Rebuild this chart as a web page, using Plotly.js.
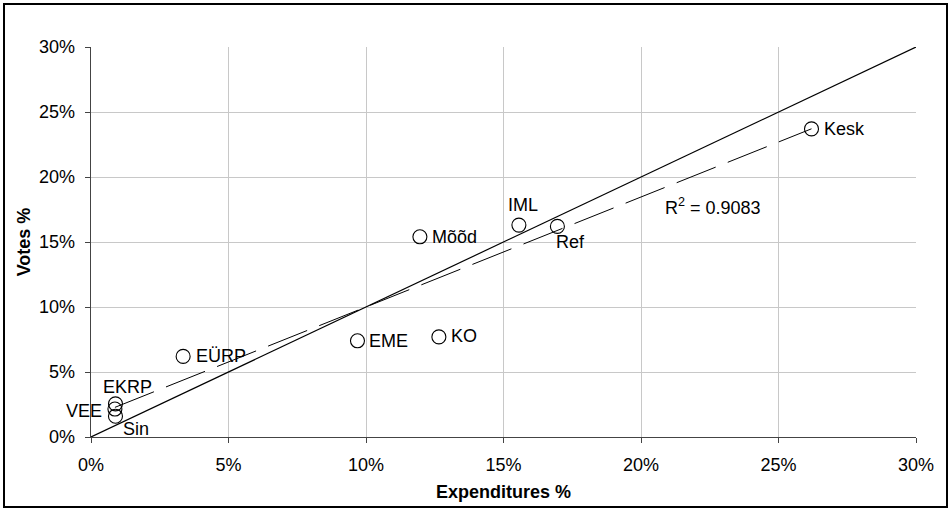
<!DOCTYPE html>
<html>
<head>
<meta charset="utf-8">
<script src="https://cdn.plot.ly/plotly-3.0.1.min.js"></script>
<style>
  html, body { margin: 0; padding: 0; background: #fff; }
  #wrap { position: relative; width: 951px; height: 510px; }
  #chart { position: absolute; left: 0; top: 0; width: 951px; height: 510px; }
  #frame { position: absolute; left: 3px; top: 3px; width: 945px; height: 505px;
           box-sizing: border-box; border: 2px solid #000; pointer-events: none; }
</style>
</head>
<body>
<div id="wrap"><div id="chart"></div><div id="frame"></div></div>
<script>
// ---- data (percent) ----
const parties      = ["Kesk", "IML", "Ref", "Mõõd", "EME", "KO", "EÜRP", "EKRP", "VEE", "Sin"];
const expenditures = [26.2, 15.56, 16.96, 11.96, 9.69, 12.65, 3.35, 0.89, 0.87, 0.89];
const votes        = [23.7, 16.3, 16.2, 15.4, 7.4, 7.7, 6.2, 2.55, 2.15, 1.6];
const xTicks       = [0, 5, 10, 15, 20, 25, 30];
const yTicks       = [0, 5, 10, 15, 20, 25, 30];
const xTickLabels  = ["0%", "5%", "10%", "15%", "20%", "25%", "30%"];
const yTickLabels  = ["0%", "5%", "10%", "15%", "20%", "25%", "30%"];
const equalityLine = [0, 30];
const r2Text       = "R<sup>2</sup> = 0.9083";
const r2Pos        = [20.8, 17.7];

// ---- label placement (style) ----
const labelStyle = {
  "Kesk": {xa: "left",   ya: "middle", dx: 10,  dy: 0},
  "IML":  {xa: "center", ya: "middle", dx: 4,   dy: 20},
  "Ref":  {xa: "center", ya: "middle", dx: 13,  dy: -16},
  "Mõõd": {xa: "left",   ya: "middle", dx: 10,  dy: 0},
  "EME":  {xa: "left",   ya: "middle", dx: 10,  dy: 0},
  "KO":   {xa: "left",   ya: "middle", dx: 10,  dy: 1},
  "EÜRP": {xa: "left",   ya: "middle", dx: 11,  dy: 0},
  "EKRP": {xa: "center", ya: "middle", dx: 12,  dy: 17},
  "VEE":  {xa: "right",  ya: "middle", dx: -11, dy: -2},
  "Sin":  {xa: "center", ya: "middle", dx: 21,  dy: -13}
};

// ---- linear regression (trendline) ----
const n = expenditures.length;
const mx = expenditures.reduce((a, b) => a + b, 0) / n;
const my = votes.reduce((a, b) => a + b, 0) / n;
let sxy = 0, sxx = 0;
for (let i = 0; i < n; i++) {
  sxy += (expenditures[i] - mx) * (votes[i] - my);
  sxx += (expenditures[i] - mx) ** 2;
}
const slope = sxy / sxx, intercept = my - slope * mx;
const xMin = Math.min(...expenditures), xMax = Math.max(...expenditures);
const trendX = [xMin, xMax];
const trendY = trendX.map(x => intercept + slope * x);

const FONT = "Liberation Sans, Arial, sans-serif";
const FS = 18;

const traces = [
  { x: equalityLine, y: equalityLine, mode: "lines", type: "scatter",
    line: {color: "#000", width: 1.2}, hoverinfo: "skip", showlegend: false },
  { x: trendX, y: trendY, mode: "lines", type: "scatter",
    line: {color: "#000", width: 1, dash: "42px,13px"}, hoverinfo: "skip", showlegend: false },
  { x: expenditures, y: votes, mode: "markers", type: "scatter", text: parties,
    marker: {symbol: "circle-open", size: 14, color: "#000", line: {width: 1.1, color: "#000"}},
    showlegend: false }
];

const annotations = parties.map((p, i) => {
  const s = labelStyle[p];
  return { x: expenditures[i], y: votes[i], xref: "x", yref: "y", text: p,
           showarrow: false, xanchor: s.xa, yanchor: s.ya, xshift: s.dx, yshift: s.dy,
           font: {family: FONT, size: FS, color: "#000"} };
});
annotations.push({ x: r2Pos[0], y: r2Pos[1], xref: "x", yref: "y", text: r2Text,
  showarrow: false, xanchor: "left", yanchor: "middle",
  font: {family: FONT, size: FS, color: "#000"} });

const axisCommon = {
  range: [0, 30], tickmode: "array",
  showgrid: true, gridcolor: "#c8c8c8", gridwidth: 1,
  zeroline: false, showline: true, linecolor: "#444", linewidth: 1.3,
  ticks: "outside", ticklen: 5, tickcolor: "#444", tickwidth: 1,
  tickfont: {family: FONT, size: FS, color: "#000"},
  ticklabelstandoff: 6, fixedrange: true
};

const layout = {
  width: 951, height: 510,
  margin: {l: 91, r: 35, t: 47, b: 73},
  paper_bgcolor: "#fff", plot_bgcolor: "#fff",
  font: {family: FONT, size: FS, color: "#000"},
  xaxis: Object.assign({}, axisCommon, {
    tickvals: xTicks, ticktext: xTickLabels,
    title: {text: "<b>Expenditures %</b>", font: {family: FONT, size: 18, color: "#000"}, standoff: 11}
  }),
  yaxis: Object.assign({}, axisCommon, {
    tickvals: yTicks, ticktext: yTickLabels,
    title: {text: "<b>Votes %</b>", font: {family: FONT, size: 18, color: "#000"}, standoff: 3}
  }),
  annotations: annotations,
  showlegend: false
};

Plotly.newPlot("chart", traces, layout, {displayModeBar: false, staticPlot: true});
</script>
</body>
</html>
